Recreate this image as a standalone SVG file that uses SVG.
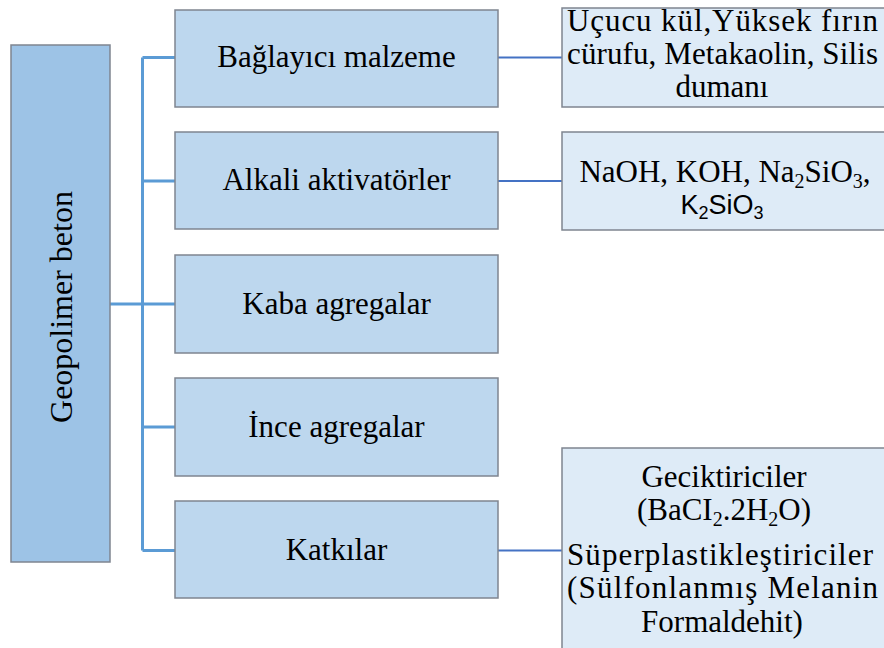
<svg xmlns="http://www.w3.org/2000/svg" width="884" height="648" viewBox="0 0 884 648">
<style>
.root{fill:#9dc3e6;stroke:#7f8590;stroke-width:1.5}
.mid{fill:#bdd7ee;stroke:#7f8590;stroke-width:1.5}
.det{fill:#deebf7;stroke:#7f8590;stroke-width:1.5}
.bus{stroke:#5b9bd5;stroke-width:3;fill:none}
.lnk{stroke:#4472c4;stroke-width:2;fill:none}
text{font-family:"Liberation Serif","Times New Roman",serif;font-size:31px;fill:#000}
.c{text-anchor:middle}
.sans{font-family:"Liberation Sans",Arial,sans-serif;font-size:27px}
</style>
<g id="connectors">
<path class="bus" d="M142.5 57.5V550.5M142.5 57.5H175M142.5 181H175M110 304H175M142.5 427H175M142.5 550.5H175"/>
<path class="lnk" d="M498 57.5H562M498 181H562M498 550.5H562"/>
</g>
<g id="root">
<rect class="root" x="11" y="45" width="99" height="517"/>
<text class="c" style="font-size:32px" transform="translate(72 307) rotate(-90)">Geopolimer beton</text>
</g>
<g id="n1">
<rect class="mid" x="175" y="10" width="323" height="97"/>
<text class="c" x="336.5" y="67">Bağlayıcı malzeme</text>
</g>
<g id="n2">
<rect class="mid" x="175" y="132" width="323" height="97"/>
<text class="c" x="336.5" y="190">Alkali aktivatörler</text>
</g>
<g id="n3">
<rect class="mid" x="175" y="255" width="323" height="98"/>
<text class="c" x="336.5" y="314">Kaba agregalar</text>
</g>
<g id="n4">
<rect class="mid" x="175" y="378" width="323" height="98"/>
<text class="c" x="336.5" y="437">İnce agregalar</text>
</g>
<g id="n5">
<rect class="mid" x="175" y="501" width="323" height="97"/>
<text class="c" x="336.5" y="560">Katkılar</text>
</g>
<g id="d1">
<rect class="det" x="562" y="8" width="330" height="99"/>
<text x="567" y="30.5" textLength="311" lengthAdjust="spacing">Uçucu kül,Yüksek fırın</text>
<text x="567" y="63.5" textLength="311" lengthAdjust="spacing">cürufu, Metakaolin, Silis</text>
<text class="c" x="722" y="96.5">dumanı</text>
</g>
<g id="d2">
<rect class="det" x="562" y="132" width="330" height="98"/>
<text class="c" x="725" y="182">NaOH, KOH, Na<tspan font-size="20" dy="6">2</tspan><tspan dy="-6">SiO</tspan><tspan font-size="20" dy="6">3</tspan><tspan dy="-6">,</tspan></text>
<text class="c sans" x="722" y="214">K<tspan font-size="18" dy="5">2</tspan><tspan dy="-5">SiO</tspan><tspan font-size="18" dy="5">3</tspan></text>
</g>
<g id="d3">
<rect class="det" x="562" y="448" width="330" height="210"/>
<text class="c" x="724" y="487">Geciktiriciler</text>
<text class="c" x="724" y="520">(BaCI<tspan font-size="20" dy="6">2</tspan><tspan dy="-6">.2H</tspan><tspan font-size="20" dy="6">2</tspan><tspan dy="-6">O)</tspan></text>
<text x="567" y="565" textLength="306" lengthAdjust="spacing">Süperplastikleştiriciler</text>
<text x="567" y="598" textLength="311" lengthAdjust="spacing">(Sülfonlanmış Melanin</text>
<text class="c" x="722" y="632">Formaldehit)</text>
</g>
</svg>
